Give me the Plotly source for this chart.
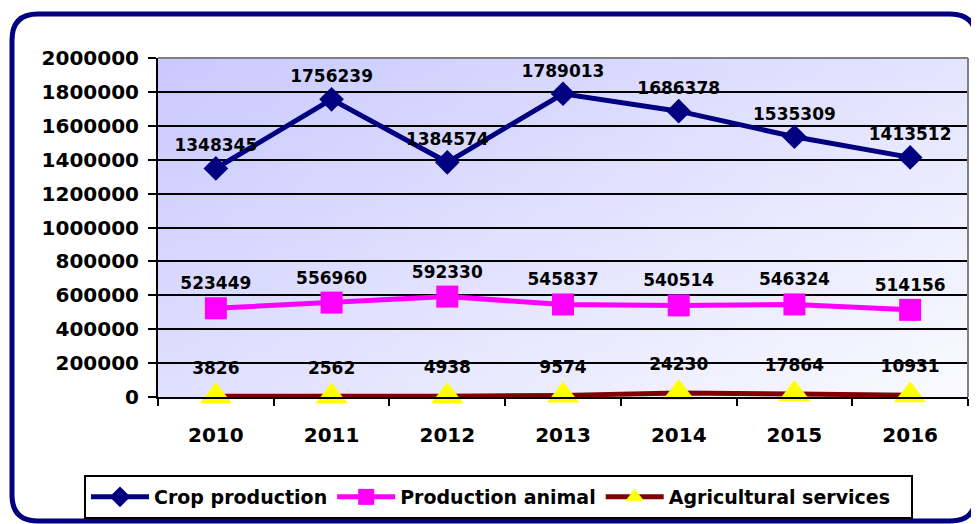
import base64, struct, zlib
import plotly.graph_objects as go

years = ["2010", "2011", "2012", "2013", "2014", "2015", "2016"]
crop = [1348345, 1756239, 1384574, 1789013, 1686378, 1535309, 1413512]
animal = [523449, 556960, 592330, 545837, 540514, 546324, 514156]
services = [3826, 2562, 4938, 9574, 24230, 17864, 10931]
y_ticks = [0, 200000, 400000, 600000, 800000, 1000000, 1200000, 1400000,
           1600000, 1800000, 2000000]

# screen geometry (page body has an 8px default margin)
O = 8
W, H = 979, 524
ML, MR, MT, MB = 158, 11, 58, 127
PW, PH = W - ML - MR, H - MT - MB


def pxx(x):
    return (x - ML) / PW


def pxy(y):
    return 1 - (y - MT) / PH


def gradient_uri(w=48, h=24, c0=(202, 202, 255), c1=(250, 250, 255)):
    rows = []
    for j in range(h):
        row = bytearray([0])
        for i in range(w):
            t = 0.55 * i / (w - 1) + 0.45 * j / (h - 1)
            row += bytes(int(round(a + (b - a) * t)) for a, b in zip(c0, c1))
        rows.append(bytes(row))
    raw = b"".join(rows)

    def chunk(tag, data):
        return (struct.pack(">I", len(data)) + tag + data +
                struct.pack(">I", zlib.crc32(tag + data) & 0xffffffff))

    png = (b"\x89PNG\r\n\x1a\n" +
           chunk(b"IHDR", struct.pack(">IIBBBBB", w, h, 8, 2, 0, 0, 0)) +
           chunk(b"IDAT", zlib.compress(raw)) + chunk(b"IEND", b""))
    return "data:image/png;base64," + base64.b64encode(png).decode()


FONT = "DejaVu Sans"
label_font = dict(family=FONT, size=17, color="black", weight="bold")

fig = go.Figure()
fig.add_trace(go.Scatter(
    x=years, y=crop, name="Crop production", mode="lines+markers+text",
    line=dict(color="#000080", width=5),
    marker=dict(symbol="diamond", size=19, color="#000080"),
    text=[str(v) for v in crop], textposition="top center", textfont=label_font,
))
fig.add_trace(go.Scatter(
    x=years, y=animal, name="Production animal", mode="lines+markers+text",
    line=dict(color="#FF00FF", width=5),
    marker=dict(symbol="square", size=22, color="#FF00FF"),
    text=[str(v) for v in animal], textposition="top center", textfont=label_font,
))
fig.add_trace(go.Scatter(
    x=years, y=services, name="Agricultural services", mode="lines+markers+text",
    line=dict(color="#800000", width=5),
    marker=dict(symbol="triangle-up", size=28, color="#FFFF00"),
    text=[str(v) for v in services], textposition="top center", textfont=label_font,
    cliponaxis=False,
))

R = 26
L, T, Rt, B = 12, 14, 976, 521
frame = (f"M {pxx(L+R)},{pxy(T)} L {pxx(Rt-R)},{pxy(T)} "
         f"Q {pxx(Rt)},{pxy(T)} {pxx(Rt)},{pxy(T+R)} L {pxx(Rt)},{pxy(B-R)} "
         f"Q {pxx(Rt)},{pxy(B)} {pxx(Rt-R)},{pxy(B)} L {pxx(L+R)},{pxy(B)} "
         f"Q {pxx(L)},{pxy(B)} {pxx(L)},{pxy(B-R)} L {pxx(L)},{pxy(T+R)} "
         f"Q {pxx(L)},{pxy(T)} {pxx(L+R)},{pxy(T)} Z")

fig.update_layout(
    width=W - O, height=H - O,
    margin=dict(l=ML - O, r=MR, t=MT - O, b=MB, autoexpand=False),
    paper_bgcolor="white", plot_bgcolor="rgba(0,0,0,0)",
    showlegend=True,
    legend=dict(orientation="h", x=pxx(491), xanchor="center", y=pxy(478), yanchor="top",
                borderwidth=0, bgcolor="rgba(0,0,0,0)",
                font=dict(family=FONT, size=19, color="black", weight="bold"),
                itemwidth=58),
    xaxis=dict(type="category", range=[-0.5, 6.5], showgrid=False,
               showline=True, linecolor="black", linewidth=2,
               ticks="outside", tickson="boundaries", ticklen=7, tickwidth=2,
               tickcolor="black", ticklabelstandoff=19,
               tickfont=dict(family=FONT, size=20, color="black", weight="bold")),
    yaxis=dict(range=[0, 2000000], tickvals=y_ticks, ticktext=[str(v) for v in y_ticks],
               showgrid=True, gridcolor="black", gridwidth=1.5, zeroline=False,
               showline=True, linecolor="black", linewidth=2,
               ticks="outside", ticklen=8, tickwidth=2, tickcolor="black",
               ticklabelstandoff=5,
               tickfont=dict(family=FONT, size=20, color="black", weight="bold")),
    images=[dict(source=gradient_uri(), xref="x domain", yref="y domain",
                 x=0, y=1, sizex=1, sizey=1, sizing="stretch",
                 xanchor="left", yanchor="top", layer="below")],
    shapes=[
        dict(type="path", path=frame, xref="paper", yref="paper",
             line=dict(color="#000080", width=5), layer="below"),
        dict(type="rect", xref="paper", yref="paper",
             x0=pxx(85), x1=pxx(912), y0=pxy(476), y1=pxy(518),
             line=dict(color="black", width=2), fillcolor="white", layer="below"),
        dict(type="line", xref="paper", yref="paper", x0=0, x1=1, y0=1, y1=1,
             line=dict(color="#808080", width=2), layer="above"),
        dict(type="line", xref="paper", yref="paper", x0=1, x1=1, y0=0, y1=1,
             line=dict(color="#808080", width=2), layer="above"),
    ],
)

fig.write_html("out.html")
